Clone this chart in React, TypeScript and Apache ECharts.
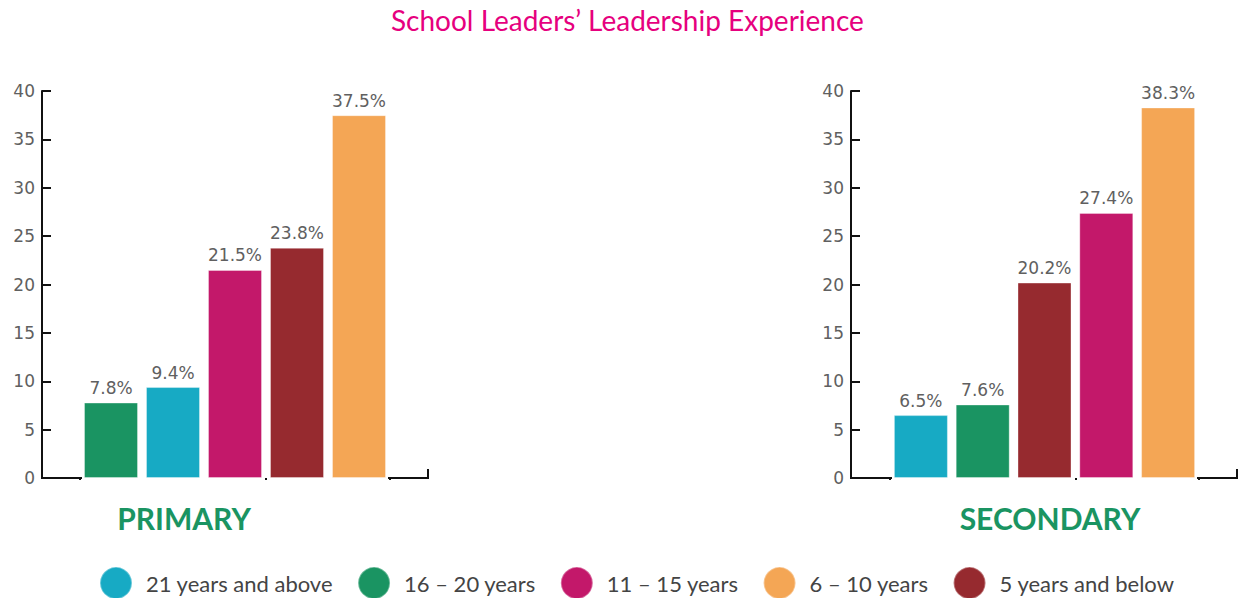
import React, { useEffect, useRef } from "react";
import * as echarts from "echarts";

const groups = ["21 years and above", "16 – 20 years", "11 – 15 years", "6 – 10 years", "5 years and below"];
const groupColors = ["#17aac4", "#1a9462", "#c3186a", "#f4a655", "#962a2f"];

const primaryCategories = ["16 – 20 years", "21 years and above", "11 – 15 years", "5 years and below", "6 – 10 years"];
const primaryValues = [7.8, 9.4, 21.5, 23.8, 37.5];

const secondaryCategories = ["21 years and above", "16 – 20 years", "5 years and below", "11 – 15 years", "6 – 10 years"];
const secondaryValues = [6.5, 7.6, 20.2, 27.4, 38.3];

const panelTitles = ["PRIMARY", "SECONDARY"];
const yTicks = { min: 0, max: 40, interval: 5 };

// layout
const W = 1242;
const H = 598;
const GRID_TOP = 91;
const GRID_BOTTOM = 120;
const AXIS_Y = H - GRID_BOTTOM;
const panels = [
  { left: 80, width: 310, yAxisX: 42, end: 428, titleX: 184 },
  { left: 890, width: 309, yAxisX: 851, end: 1237, titleX: 1050 },
];

export default function App() {
  const ref = useRef<HTMLDivElement>(null);
  useEffect(() => {
    document.body.style.margin = "0";
    const chart = echarts.init(ref.current!, undefined, { renderer: "svg" });
    const panelData = [
      { cats: primaryCategories, vals: primaryValues },
      { cats: secondaryCategories, vals: secondaryValues },
    ];
    const series: any[] = [];
    panelData.forEach((pd, pi) => {
      groups.forEach((g, gi) => {
        series.push({
          type: "bar",
          name: g,
          xAxisIndex: pi,
          yAxisIndex: pi,
          stack: "p" + pi,
          barWidth: 54,
          data: pd.cats.map((c, i) => (c === g ? pd.vals[i] : null)),
          itemStyle: { color: groupColors[gi], borderColor: "rgba(255,255,255,0.35)", borderWidth: 1 },
          label: {
            show: true,
            position: "top",
            distance: 6,
            formatter: (p: any) => (p.value == null ? "" : p.value.toFixed(1) + "%"),
            color: "#606060",
            fontFamily: "DejaVu Sans",
            fontSize: 17,
          },
        });
      });
    });
    const graphic: any[] = [];
    panels.forEach((p, i) => {
      const lineStyle = { stroke: "#111", lineWidth: 2 };
      graphic.push(
        { type: "line", shape: { x1: p.yAxisX - 1, y1: AXIS_Y, x2: p.left + 2, y2: AXIS_Y }, style: lineStyle },
        { type: "line", shape: { x1: p.left + p.width - 2, y1: AXIS_Y, x2: p.end, y2: AXIS_Y }, style: lineStyle },
        { type: "line", shape: { x1: p.end, y1: AXIS_Y + 1, x2: p.end, y2: AXIS_Y - 9 }, style: lineStyle },
        {
          type: "text",
          x: p.titleX,
          y: 518,
          style: {
            text: panelTitles[i],
            fill: "#1a9462",
            font: "bold 30px Lato",
            textAlign: "center",
            textVerticalAlign: "middle",
          },
        }
      );
    });
    chart.setOption({
      animation: false,
      title: {
        text: "School Leaders’ Leadership Experience",
        left: 386,
        top: 1,
        textStyle: { color: "#e6007e", fontFamily: "Lato", fontWeight: "normal", fontSize: 28 },
      },
      legend: {
        data: groups,
        left: 99,
        top: 566,
        padding: 0,
        icon: "circle",
        itemWidth: 32,
        itemHeight: 32,
        itemGap: 24,
        textStyle: { color: "#444", fontFamily: "Lato", fontSize: 22, padding: [0, 0, 2, 9] },
        selectedMode: false,
      },
      grid: panels.map((p) => ({ left: p.left, width: p.width, top: GRID_TOP, bottom: GRID_BOTTOM })),
      xAxis: panelData.map((pd, i) => ({
        type: "category",
        gridIndex: i,
        data: pd.cats,
        axisLine: { show: false },
        axisTick: { show: true, length: 2, lineStyle: { color: "#111", width: 2 } },
        axisLabel: { show: false },
        splitLine: { show: false },
      })),
      yAxis: panels.map((p, i) => ({
        type: "value",
        gridIndex: i,
        min: yTicks.min,
        max: yTicks.max,
        interval: yTicks.interval,
        offset: p.left - p.yAxisX,
        axisLine: { show: true, lineStyle: { color: "#111", width: 2 } },
        axisTick: { show: true, inside: true, length: 9, lineStyle: { color: "#111", width: 2 } },
        axisLabel: { color: "#606060", fontFamily: "DejaVu Sans", fontSize: 17, margin: 7 },
        splitLine: { show: false },
      })),
      graphic,
      series,
    });
    return () => chart.dispose();
  }, []);
  return <div ref={ref} style={{ width: W, height: H }} />;
}
